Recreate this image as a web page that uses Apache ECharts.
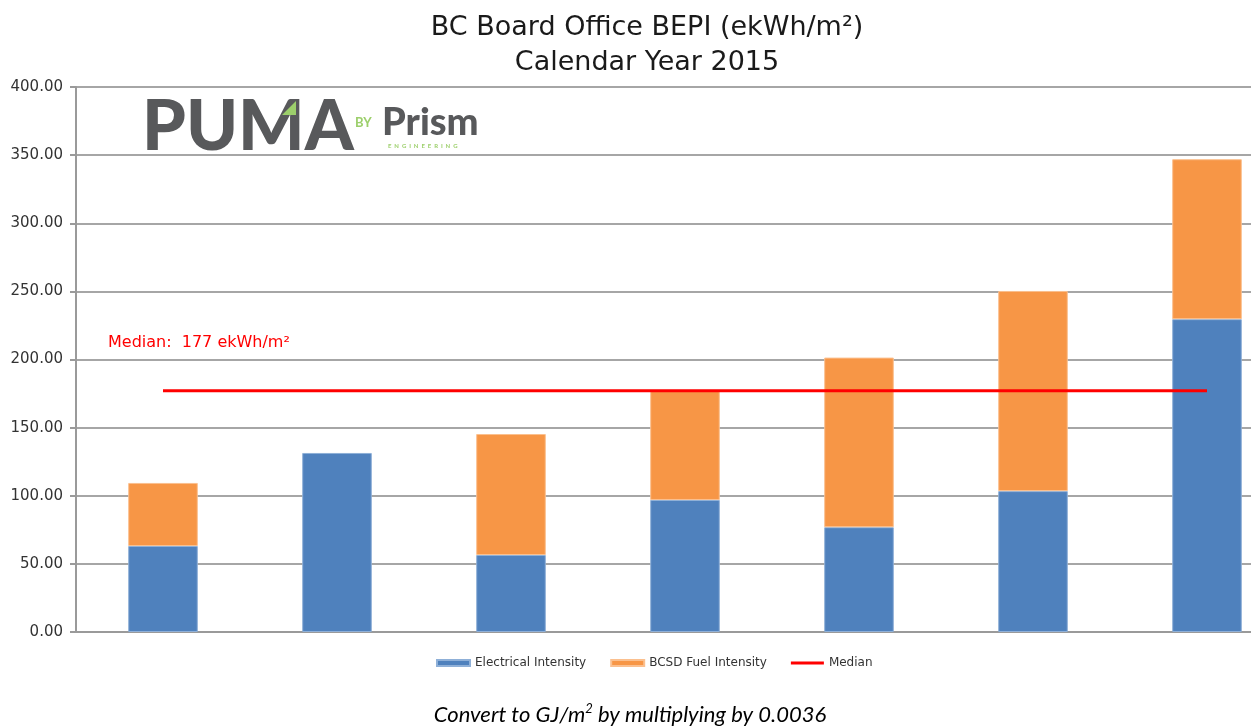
<!DOCTYPE html>
<html>
<head>
<meta charset="utf-8">
<script src="https://cdn.jsdelivr.net/npm/echarts@6/dist/echarts.min.js"></script>
<style>
html, body { margin: 0; padding: 0; background: #fff; }
#bepi { width: 1251px; height: 728px; }
</style>
</head>
<body>
<div id="bepi"></div>
<script>
var myChartBepi = echarts.init(document.getElementById('bepi'));

// data
var buildings = ['A', 'B', 'C', 'D', 'E', 'F', 'G'];
var electrical = [63.1, 131.4, 56.5, 96.9, 76.9, 103.4, 229.6];
var fuel = [46.3, null, 88.8, 80.1, 124.5, 146.9, 117.4];
var median = [177, 177, 177, 177, 177, 177, 177];
var yTicks = [0, 50, 100, 150, 200, 250, 300, 350, 400];

var fontMain = '"DejaVu Sans", sans-serif';
var fontLogo = 'Lato, "DejaVu Sans", sans-serif';

option = {
    animation: false,
    title: {
        text: 'BC Board Office BEPI (ekWh/m²)\nCalendar Year 2015',
        left: 642,
        textAlign: 'center',
        top: 5,
        textStyle: {
            fontFamily: fontMain,
            fontWeight: 'normal',
            fontSize: 27,
            lineHeight: 35,
            color: '#1a1a1a'
        }
    },
    color: ['#4f81bd', '#f79646', '#ff0000'],
    legend: {
        bottom: 54,
        left: 431,
        itemGap: 24,
        itemWidth: 33,
        itemHeight: 6,
        textStyle: { fontFamily: fontMain, fontSize: 12, color: '#333' },
        data: [
            { name: 'Electrical Intensity', icon: 'rect' },
            { name: 'BCSD Fuel Intensity', icon: 'rect' },
            { name: 'Median', icon: 'path://M0,0L33,0L33,3L0,3Z' }
        ]
    },
    grid: { left: 76, top: 87, width: 1218, height: 545, outerBoundsMode: 'none' },
    xAxis: {
        type: 'category',
        data: buildings,
        axisLine: { lineStyle: { color: '#9a9a9a', width: 2 } },
        axisTick: { show: false },
        axisLabel: { show: false }
    },
    yAxis: {
        type: 'value',
        min: yTicks[0],
        max: yTicks[yTicks.length - 1],
        interval: 50,
        axisLine: { show: true, lineStyle: { color: '#9a9a9a', width: 2 } },
        axisTick: { show: true, length: 6, lineStyle: { color: '#9a9a9a', width: 2 } },
        axisLabel: {
            margin: 13,
            fontFamily: fontMain,
            fontSize: 15,
            color: '#333',
            formatter: function (v) { return v.toFixed(2); }
        },
        splitLine: { lineStyle: { color: '#a6a6a6', width: 2 } }
    },
    series: [
        {
            name: 'Electrical Intensity',
            type: 'bar',
            stack: 'bepi',
            barWidth: '40%',
            data: electrical,
            itemStyle: { borderColor: '#8fb0d8', borderWidth: 1 }
        },
        {
            name: 'BCSD Fuel Intensity',
            type: 'bar',
            stack: 'bepi',
            data: fuel,
            itemStyle: { borderColor: '#fbc08f', borderWidth: 1 }
        },
        {
            name: 'Median',
            type: 'line',
            data: median,
            symbol: 'none',
            lineStyle: { color: '#ff0000', width: 3 },
            z: 5
        }
    ],
    graphic: [
        {
            type: 'text', left: 108, top: 335,
            style: { text: 'Median:  177 ekWh/m²', fill: '#ff0000', font: '16px ' + fontMain }
        },
        {
            type: 'text', left: 142, top: 92,
            style: { text: 'PUMA', fill: '#58595b', font: '900 70px ' + fontLogo }
        },
        {
            type: 'polygon',
            shape: { points: [[282, 115], [296, 101], [296, 115]] },
            style: { fill: '#9ccf6b' }
        },
        {
            type: 'text', left: 355, top: 116,
            style: { text: 'BY', fill: '#9ccf6b', font: 'bold 13px ' + fontLogo }
        },
        {
            type: 'text', left: 382, top: 104,
            style: { text: 'Prism', fill: '#58595b', font: '900 38px ' + fontLogo }
        },
        {
            type: 'text', left: 388, top: 143,
            style: { text: 'E  N  G  I  N  E  E  R  I  N  G', fill: '#9ccf6b', font: 'bold 6px ' + fontLogo }
        },
        {
            type: 'text', x: 630, y: 702,
            style: {
                text: '{a|Convert to GJ/m}{s|2}{a| by multiplying by 0.0036}',
                align: 'center',
                rich: {
                    a: { fontFamily: 'Lato, sans-serif', fontStyle: 'italic', fontSize: 22, fill: '#000' },
                    s: { fontFamily: 'Lato, sans-serif', fontStyle: 'italic', fontSize: 13, fill: '#000', verticalAlign: 'top', padding: [0, 0, 12, 0] }
                }
            }
        }
    ]
};

myChartBepi.setOption(option);
</script>
</body>
</html>
